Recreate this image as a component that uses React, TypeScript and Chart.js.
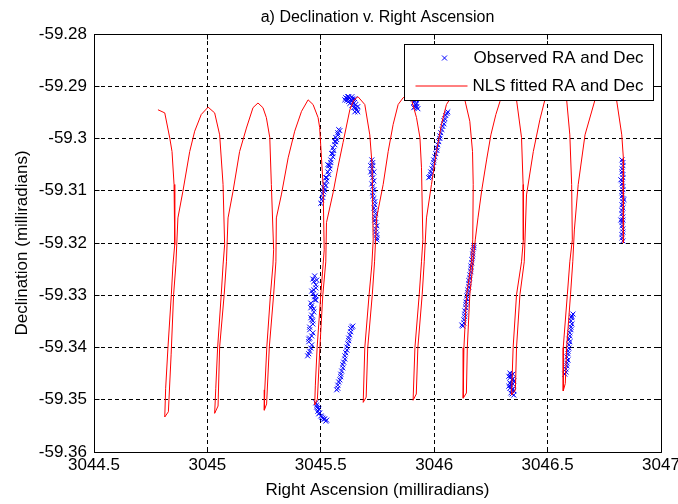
import React, { useEffect, useRef } from "react";
import { Chart, registerables } from "chart.js";

Chart.register(...registerables);

const TITLE = "a) Declination v. Right Ascension";
const X_LABEL = "Right Ascension (milliradians)";
const Y_LABEL = "Declination (milliradians)";
const LEGEND_LABELS = ["Observed RA and Dec", "NLS fitted RA and Dec"];

const xTicks = [3044.5, 3045, 3045.5, 3046, 3046.5, 3047];
const yTicks = [-59.36, -59.35, -59.34, -59.33, -59.32, -59.31, -59.3, -59.29, -59.28];

// NLS fitted track (red line)
const fitRA = [
  3044.782, 3044.812, 3044.834, 3044.844, 3044.853, 3044.856, 3044.848, 3044.841, 3044.826, 3044.816, 3044.812,
  3044.828, 3044.840, 3044.851, 3044.861, 3044.870, 3044.892, 3044.922, 3044.944, 3044.973, 3045.003, 3045.032, 3045.054, 3045.069, 3045.076, 3045.069, 3045.061, 3045.045, 3045.037, 3045.032,
  3045.047, 3045.054, 3045.074, 3045.084, 3045.091, 3045.113, 3045.142, 3045.172, 3045.201, 3045.223, 3045.245, 3045.260, 3045.275, 3045.282, 3045.292, 3045.289, 3045.278, 3045.262, 3045.253, 3045.251,
  3045.261, 3045.273, 3045.292, 3045.302, 3045.304, 3045.326, 3045.356, 3045.385, 3045.415, 3045.444, 3045.466, 3045.488, 3045.495, 3045.510, 3045.515, 3045.510, 3045.500, 3045.484, 3045.476, 3045.473,
  3045.485, 3045.496, 3045.509, 3045.522, 3045.525, 3045.554, 3045.575, 3045.598, 3045.628, 3045.645, 3045.664, 3045.694, 3045.716, 3045.726, 3045.731, 3045.725, 3045.713, 3045.694, 3045.687,
  3045.700, 3045.707, 3045.727, 3045.737, 3045.746, 3045.775, 3045.797, 3045.819, 3045.841, 3045.863, 3045.884, 3045.900, 3045.922, 3045.937, 3045.944, 3045.950, 3045.944, 3045.934, 3045.915, 3045.907,
  3045.921, 3045.928, 3045.947, 3045.956, 3045.966, 3045.988, 3046.010, 3046.032, 3046.054, 3046.073, 3046.100, 3046.126, 3046.135, 3046.157, 3046.169, 3046.172, 3046.170, 3046.164, 3046.143, 3046.131, 3046.128,
  3046.142, 3046.146, 3046.157, 3046.172, 3046.181, 3046.193, 3046.210, 3046.231, 3046.250, 3046.272, 3046.290, 3046.320, 3046.347, 3046.363, 3046.385, 3046.392, 3046.393, 3046.385, 3046.363, 3046.348, 3046.341,
  3046.358, 3046.363, 3046.378, 3046.397, 3046.407, 3046.437, 3046.466, 3046.488, 3046.519, 3046.541, 3046.563, 3046.584, 3046.598, 3046.606, 3046.609, 3046.598, 3046.587, 3046.569, 3046.569,
  3046.578, 3046.584, 3046.601, 3046.611, 3046.618, 3046.635, 3046.665, 3046.709, 3046.735, 3046.757, 3046.779, 3046.804, 3046.827, 3046.834, 3046.834, 3046.834,
];
const fitDec = [
  -59.2945, -59.2951, -59.2999, -59.3025, -59.3088, -59.3203, -59.3242, -59.3299, -59.3401, -59.3478, -59.3533,
  -59.3523, -59.3414, -59.3299, -59.3242, -59.3152, -59.3101, -59.3025, -59.2986, -59.2954, -59.2940, -59.2951, -59.2993, -59.3088, -59.3203, -59.3242, -59.3299, -59.3401, -59.3478, -59.3526,
  -59.3512, -59.3399, -59.3299, -59.3236, -59.3152, -59.3101, -59.3025, -59.2980, -59.2941, -59.2932, -59.2941, -59.2960, -59.2998, -59.3088, -59.3213, -59.3242, -59.3299, -59.3399, -59.3481, -59.3520,
  -59.3508, -59.3399, -59.3299, -59.3236, -59.3152, -59.3108, -59.3037, -59.2986, -59.2948, -59.2926, -59.2935, -59.2960, -59.2979, -59.3088, -59.3213, -59.3242, -59.3299, -59.3399, -59.3472, -59.3510,
  -59.3499, -59.3399, -59.3299, -59.3236, -59.3161, -59.3104, -59.3056, -59.3008, -59.2945, -59.2927, -59.2920, -59.2935, -59.2993, -59.3050, -59.3194, -59.3242, -59.3299, -59.3400, -59.3505,
  -59.3495, -59.3400, -59.3299, -59.3236, -59.3152, -59.3088, -59.3025, -59.2973, -59.2935, -59.2922, -59.2917, -59.2926, -59.2960, -59.2998, -59.3056, -59.3194, -59.3236, -59.3299, -59.3400, -59.3501,
  -59.3489, -59.3400, -59.3299, -59.3236, -59.3152, -59.3088, -59.3025, -59.2973, -59.2935, -59.2922, -59.2915, -59.2920, -59.2926, -59.2967, -59.3025, -59.3088, -59.3194, -59.3236, -59.3299, -59.3400, -59.3497,
  -59.3487, -59.3400, -59.3299, -59.3236, -59.3194, -59.3152, -59.3098, -59.3041, -59.2993, -59.2954, -59.2929, -59.2913, -59.2918, -59.2926, -59.2998, -59.3088, -59.3194, -59.3236, -59.3299, -59.3400, -59.3491,
  -59.3481, -59.3400, -59.3299, -59.3236, -59.3108, -59.3025, -59.2964, -59.2926, -59.2912, -59.2910, -59.2916, -59.2926, -59.2993, -59.3088, -59.3194, -59.3236, -59.3299, -59.3400, -59.3483,
  -59.3469, -59.3400, -59.3299, -59.3236, -59.3175, -59.3088, -59.2993, -59.2926, -59.2914, -59.2910, -59.2916, -59.2926, -59.2993, -59.3037, -59.3117, -59.3200,
];

// Observed RA and Dec (blue x markers), cluster by cluster
const obsRA = [
  // cluster near 3045.46 (vertical)
  3045.473, 3045.469, 3045.478, 3045.465, 3045.473, 3045.460, 3045.469, 3045.456, 3045.465, 3045.451, 3045.460, 3045.447, 3045.456, 3045.447, 3045.478, 3045.460, 3045.469, 3045.456, 3045.451,
  3045.465, 3045.478, 3045.460, 3045.473, 3045.456, 3045.469, 3045.460, 3045.465, 3045.451, 3045.465, 3045.447, 3045.460, 3045.451, 3045.442, 3045.482, 3045.478,
  // hook near 3045.5 bottom
  3045.478, 3045.482, 3045.487, 3045.491, 3045.500, 3045.509, 3045.517, 3045.526,
  3045.482, 3045.491, 3045.495, 3045.504, 3045.513, 3045.522, 3045.487,
  // rising near 3045.6 bottom
  3045.570, 3045.575, 3045.584, 3045.588, 3045.597, 3045.601, 3045.606, 3045.615, 3045.619, 3045.623, 3045.632, 3045.637,
  3045.575, 3045.579, 3045.588, 3045.592, 3045.597, 3045.606, 3045.610, 3045.615, 3045.623, 3045.628, 3045.632, 3045.641,
  // rising near 3045.54 top
  3045.504, 3045.509, 3045.513, 3045.517, 3045.526, 3045.531, 3045.535, 3045.544, 3045.548, 3045.553, 3045.562, 3045.566, 3045.575, 3045.579, 3045.517, 3045.540, 3045.553,
  3045.509, 3045.513, 3045.522, 3045.526, 3045.535, 3045.540, 3045.544, 3045.553, 3045.557, 3045.562, 3045.570, 3045.575, 3045.584, 3045.500, 3045.522, 3045.531, 3045.566,
  // blob near peak 3045.64
  3045.610, 3045.623, 3045.637, 3045.615, 3045.632, 3045.650, 3045.628, 3045.641, 3045.654, 3045.645, 3045.659, 3045.650, 3045.663,
  3045.619, 3045.641, 3045.606, 3045.623, 3045.637, 3045.645, 3045.654, 3045.637, 3045.663, 3045.619,
  // vertical near 3045.73
  3045.725, 3045.729, 3045.720, 3045.729, 3045.725, 3045.734, 3045.729, 3045.738, 3045.734, 3045.742, 3045.738, 3045.747, 3045.742, 3045.747,
  3045.729, 3045.725, 3045.725, 3045.734, 3045.729, 3045.729, 3045.734, 3045.738, 3045.738, 3045.738, 3045.742, 3045.742, 3045.747, 3045.747, 3045.720, 3045.734,
  // small top cluster near 3045.92
  3045.906, 3045.919, 3045.910, 3045.923, 3045.914, 3045.928,
  3045.914, 3045.919, 3045.910, 3045.923,
  // rising near 3046.02
  3045.981, 3045.985, 3045.994, 3045.998, 3046.007, 3046.012, 3046.020, 3046.025, 3046.034, 3046.043, 3046.047, 3046.056,
  3045.985, 3045.990, 3045.998, 3046.003, 3046.012, 3046.016, 3046.025, 3046.029, 3046.038, 3046.043, 3046.051, 3046.060, 3045.976,
  // rising near 3046.15
  3046.126, 3046.131, 3046.135, 3046.140, 3046.140, 3046.144, 3046.148, 3046.153, 3046.157, 3046.162, 3046.162, 3046.166, 3046.170, 3046.175,
  3046.131, 3046.135, 3046.135, 3046.140, 3046.144, 3046.148, 3046.153, 3046.153, 3046.157, 3046.162, 3046.166, 3046.170, 3046.170, 3046.175, 3046.122,
  // block near 3046.34
  3046.334, 3046.347, 3046.334, 3046.347, 3046.334, 3046.347, 3046.334, 3046.347, 3046.338, 3046.351,
  3046.338, 3046.343, 3046.338, 3046.343, 3046.343, 3046.329, 3046.351, 3046.329, 3046.351,
  // rising near 3046.6
  3046.581, 3046.585, 3046.590, 3046.590, 3046.594, 3046.598, 3046.598, 3046.603, 3046.607, 3046.607, 3046.612,
  3046.581, 3046.585, 3046.585, 3046.590, 3046.594, 3046.594, 3046.598, 3046.603, 3046.603, 3046.607, 3046.576,
  // vertical near 3046.83
  3046.828, 3046.832, 3046.828, 3046.832, 3046.828, 3046.832, 3046.828, 3046.832, 3046.832, 3046.828, 3046.832, 3046.828, 3046.832, 3046.828, 3046.832,
  3046.832, 3046.828, 3046.832, 3046.828, 3046.832, 3046.828, 3046.832, 3046.828, 3046.828, 3046.832, 3046.828, 3046.832, 3046.828, 3046.823, 3046.837, 3046.823,
];
const obsDec = [
  -59.3263, -59.3274, -59.3286, -59.3297, -59.3309, -59.3320, -59.3332, -59.3343, -59.3355, -59.3366, -59.3378, -59.3389, -59.3401, -59.3412, -59.3301, -59.3347, -59.3290, -59.3324, -59.3382,
  -59.3269, -59.3280, -59.3292, -59.3303, -59.3315, -59.3326, -59.3338, -59.3349, -59.3361, -59.3372, -59.3384, -59.3395, -59.3407, -59.3416, -59.3271, -59.3309,
  -59.3506, -59.3514, -59.3522, -59.3527, -59.3531, -59.3535, -59.3537, -59.3539,
  -59.3510, -59.3518, -59.3525, -59.3533, -59.3537, -59.3541, -59.3516,
  -59.3481, -59.3472, -59.3462, -59.3451, -59.3439, -59.3428, -59.3416, -59.3405, -59.3393, -59.3382, -59.3370, -59.3361,
  -59.3478, -59.3466, -59.3456, -59.3445, -59.3433, -59.3422, -59.3410, -59.3399, -59.3387, -59.3376, -59.3364, -59.3359,
  -59.3117, -59.3106, -59.3094, -59.3087, -59.3075, -59.3064, -59.3052, -59.3041, -59.3029, -59.3018, -59.3006, -59.2998, -59.2989, -59.2983, -59.3098, -59.3052, -59.3029,
  -59.3113, -59.3102, -59.3090, -59.3081, -59.3069, -59.3058, -59.3046, -59.3035, -59.3023, -59.3012, -59.3002, -59.2993, -59.2985, -59.3124, -59.3075, -59.3050, -59.3006,
  -59.2922, -59.2920, -59.2920, -59.2927, -59.2926, -59.2924, -59.2933, -59.2931, -59.2935, -59.2941, -59.2945, -59.2949, -59.2939,
  -59.2924, -59.2924, -59.2926, -59.2929, -59.2927, -59.2933, -59.2941, -59.2937, -59.2949, -59.2920,
  -59.3041, -59.3052, -59.3064, -59.3075, -59.3087, -59.3098, -59.3110, -59.3121, -59.3133, -59.3144, -59.3156, -59.3167, -59.3179, -59.3190,
  -59.3046, -59.3058, -59.3069, -59.3081, -59.3092, -59.3104, -59.3115, -59.3127, -59.3138, -59.3150, -59.3161, -59.3173, -59.3184, -59.3194, -59.3052, -59.3064,
  -59.2924, -59.2926, -59.2931, -59.2933, -59.2939, -59.2943,
  -59.2927, -59.2935, -59.2941, -59.2939,
  -59.3073, -59.3064, -59.3052, -59.3041, -59.3029, -59.3018, -59.3006, -59.2995, -59.2983, -59.2972, -59.2962, -59.2952,
  -59.3069, -59.3058, -59.3046, -59.3035, -59.3023, -59.3012, -59.3000, -59.2989, -59.2977, -59.2966, -59.2956, -59.2949, -59.3075,
  -59.3359, -59.3347, -59.3336, -59.3324, -59.3313, -59.3301, -59.3290, -59.3278, -59.3267, -59.3255, -59.3244, -59.3232, -59.3221, -59.3209,
  -59.3353, -59.3341, -59.3330, -59.3318, -59.3307, -59.3295, -59.3284, -59.3272, -59.3261, -59.3249, -59.3238, -59.3226, -59.3215, -59.3205, -59.3357,
  -59.3449, -59.3451, -59.3458, -59.3460, -59.3468, -59.3470, -59.3478, -59.3479, -59.3487, -59.3491,
  -59.3453, -59.3462, -59.3472, -59.3481, -59.3489, -59.3455, -59.3464, -59.3474, -59.3483,
  -59.3447, -59.3435, -59.3424, -59.3412, -59.3401, -59.3389, -59.3378, -59.3366, -59.3355, -59.3343, -59.3336,
  -59.3441, -59.3430, -59.3418, -59.3407, -59.3395, -59.3384, -59.3372, -59.3361, -59.3349, -59.3340, -59.3451,
  -59.3041, -59.3052, -59.3064, -59.3075, -59.3087, -59.3098, -59.3110, -59.3121, -59.3133, -59.3144, -59.3156, -59.3167, -59.3179, -59.3190, -59.3196,
  -59.3046, -59.3058, -59.3069, -59.3081, -59.3092, -59.3104, -59.3115, -59.3127, -59.3138, -59.3150, -59.3161, -59.3173, -59.3184, -59.3079, -59.3117, -59.3156,
];

const FONT = "'Liberation Sans', Arial, Helvetica, sans-serif";
const TITLE_SIZE = 16;
const TICK_SIZE = 17;
const LABEL_SIZE = 17;

const al = (v: number) => Math.round(v - 0.5) + 0.5;

const frameAndLegend = {
  id: "frameAndLegend",
  afterDatasetsDraw(chart: any) {
    const { ctx, chartArea: a, scales } = chart;
    const L = al(a.left), R = al(a.right), T = al(a.top), B = al(a.bottom);
    ctx.save();
    ctx.setLineDash([]);
    ctx.strokeStyle = "#000";
    ctx.lineWidth = 1;
    ctx.beginPath();
    ctx.rect(L, T, R - L, B - T);
    const tl = 5;
    xTicks.forEach((v) => {
      const p = al(scales.x.getPixelForValue(v));
      ctx.moveTo(p, B); ctx.lineTo(p, B - tl);
      ctx.moveTo(p, T); ctx.lineTo(p, T + tl);
    });
    yTicks.forEach((v) => {
      const p = al(scales.y.getPixelForValue(v));
      ctx.moveTo(L, p); ctx.lineTo(L + tl, p);
      ctx.moveTo(R, p); ctx.lineTo(R - tl, p);
    });
    ctx.stroke();

    // legend box
    const bR = R - 8, bW = 249, bL = bR - bW, bT = T + 10, bH = 56;
    ctx.fillStyle = "#fff";
    ctx.fillRect(bL, bT, bW, bH);
    ctx.strokeRect(bL, bT, bW, bH);
    const r1 = bT + 13.5, r2 = bT + 41.5;
    ctx.strokeStyle = "#0000ff";
    ctx.beginPath();
    const mx = bL + 40, d = 2.5;
    ctx.moveTo(mx - d, r1 - d); ctx.lineTo(mx + d, r1 + d);
    ctx.moveTo(mx - d, r1 + d); ctx.lineTo(mx + d, r1 - d);
    ctx.stroke();
    ctx.strokeStyle = "#ff0000";
    ctx.beginPath();
    ctx.moveTo(bL + 11, r2); ctx.lineTo(bL + 63, r2);
    ctx.stroke();
    ctx.fillStyle = "#000";
    ctx.font = `${LABEL_SIZE}px ${FONT}`;
    ctx.textAlign = "left";
    ctx.textBaseline = "middle";
    ctx.fillText(LEGEND_LABELS[0], bL + 69, r1);
    ctx.fillText(LEGEND_LABELS[1], bL + 68, r2);
    ctx.restore();
  },
};

export default function App() {
  const ref = useRef<HTMLCanvasElement | null>(null);
  useEffect(() => {
    if (!ref.current) return;
    const fitData = fitRA.map((x, i) => ({ x, y: fitDec[i] }));
    const obsData = obsRA.map((x, i) => ({ x, y: obsDec[i] }));
    const chart = new Chart(ref.current, {
      type: "scatter",
      data: {
        datasets: [
          {
            label: LEGEND_LABELS[1],
            data: fitData,
            showLine: true,
            borderColor: "#ff0000",
            borderWidth: 1,
            pointRadius: 0,
            tension: 0,
            order: 0,
          },
          {
            label: LEGEND_LABELS[0],
            data: obsData,
            showLine: false,
            pointStyle: "crossRot",
            pointRadius: 3.5,
            pointBorderColor: "#0000ff",
            pointBackgroundColor: "#0000ff",
            pointBorderWidth: 1,
            order: 1,
          },
        ],
      },
      options: {
        responsive: false,
        animation: false,
        events: [],
        layout: { padding: { left: 0, right: 17, top: 0, bottom: 0 } },
        plugins: {
          legend: { display: false },
          tooltip: { enabled: false },
          title: {
            display: true,
            text: TITLE,
            color: "#000",
            fullSize: false,
            font: { family: FONT, size: TITLE_SIZE, weight: "normal", lineHeight: 1.2 },
            padding: { top: 7.5, bottom: 7.3 },
          },
        },
        scales: {
          x: {
            type: "linear",
            min: 3044.5,
            max: 3047,
            afterBuildTicks: (s: any) => { s.ticks = xTicks.map((v) => ({ value: v })); },
            afterFit: (s: any) => { s.height = 52; s.paddingLeft = 0; s.paddingRight = 0; },
            ticks: {
              color: "#000",
              font: { family: FONT, size: TICK_SIZE },
              padding: 3,
              maxRotation: 0,
              autoSkip: false,
              callback: (v: any) => String(v),
            },
            grid: { color: "#000", lineWidth: 1, drawTicks: false },
            border: { display: false, dash: [4, 3] },
            title: {
              display: true,
              text: X_LABEL,
              color: "#000",
              font: { family: FONT, size: LABEL_SIZE, lineHeight: 1.2 },
              padding: { top: 0, bottom: 3 },
            },
          },
          y: {
            type: "linear",
            min: -59.36,
            max: -59.28,
            afterBuildTicks: (s: any) => { s.ticks = yTicks.map((v) => ({ value: v })); },
            afterFit: (s: any) => { s.width = 94; s.paddingTop = 0; s.paddingBottom = 0; },
            ticks: {
              color: "#000",
              font: { family: FONT, size: TICK_SIZE },
              padding: 7,
              autoSkip: false,
              callback: (v: any) => String(v),
            },
            grid: { color: "#000", lineWidth: 1, drawTicks: false },
            border: { display: false, dash: [4, 3] },
            title: {
              display: true,
              text: Y_LABEL,
              color: "#000",
              font: { family: FONT, size: LABEL_SIZE, lineHeight: 1.2 },
              padding: { top: 12, bottom: 0 },
            },
          },
        },
      },
      plugins: [frameAndLegend],
    } as any);
    return () => chart.destroy();
  }, []);

  return (
    <div style={{ position: "absolute", left: 0, top: 0, width: 678, height: 504, background: "#fff" }}>
      <canvas ref={ref} width={678} height={504} style={{ display: "block" }} />
    </div>
  );
}
